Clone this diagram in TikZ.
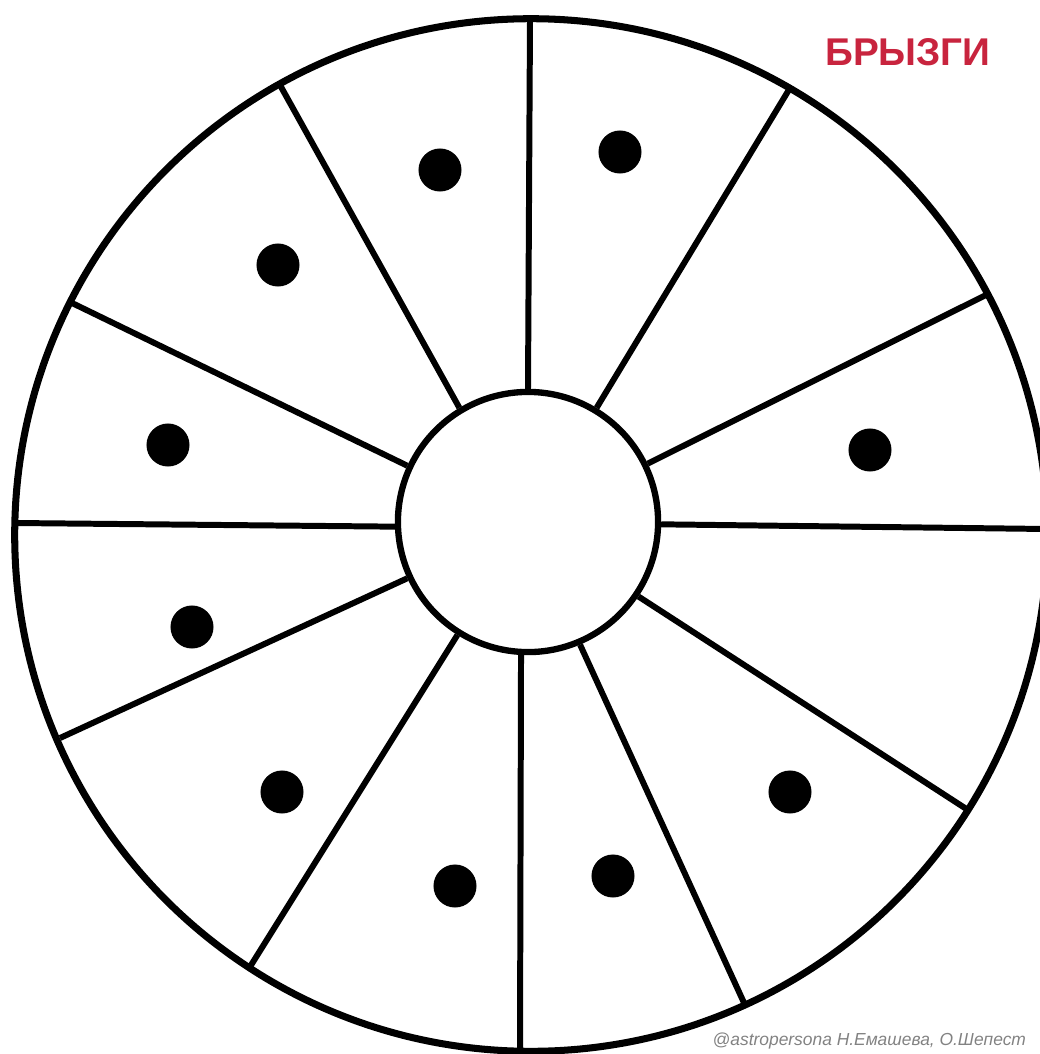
\documentclass[tikz,border=0pt]{standalone}
\usepackage{fontspec}
\setmainfont{Liberation Sans}
\definecolor{titlered}{RGB}{200,36,62}
\definecolor{markgray}{RGB}{130,130,130}
\begin{document}
\begin{tikzpicture}[x=0.01cm, y=-0.01cm,
  spoke/.style={line width=1.7pt},
  dot/.style={circle, fill=black, inner sep=0pt, minimum size=0.43cm}]

\useasboundingbox (0,0) rectangle (1040,1054);
\clip (0,0) rectangle (1040,1054);

% Wheel
\node[draw, circle, line width=2pt, minimum size=10.32cm] (rim) at (531,535) {};
\node[draw, circle, fill=white, line width=1.8pt, minimum size=2.6cm] (hub) at (528,522) {};

% Spokes (hub angle / end on the rim)
\foreach \i/\h/\x/\y in {1/90/530/20, 2/59.5/790/88, 3/26.9/990/293, 4/-1.3/1047/529,
                         5/-34.6/968/810, 6/-67.9/745/1005, 7/-93.5/520/1051,
                         8/-122.9/248/970, 9/-155/60/738, 10/-178.7/15/523,
                         11/155.1/72/303, 12/121.6/280/85} {
  \coordinate (o\i) at (\x,\y);
  \draw[spoke] (hub.\h) -- (o\i);
}

% Dots
\node[dot] (d1) at (440,170) {};
\node[dot] (d2) at (620,152) {};
\node[dot] (d3) at (278,265) {};
\node[dot] (d4) at (168,445) {};
\node[dot] (d5) at (870,450) {};
\node[dot] (d6) at (192,627) {};
\node[dot] (d7) at (282,792) {};
\node[dot] (d8) at (790,792) {};
\node[dot] (d9) at (455,886) {};
\node[dot] (d10) at (613,876) {};

% Labels
\node[text=titlered, font=\fontsize{11}{13}\selectfont\bfseries] (title) at (908,52) {БРЫЗГИ};
\node[text=markgray, anchor=base west, inner sep=0pt,
  font=\fontsize{4.95}{6}\selectfont\itshape] (mark) at (712,1045) {@astropersona Н.Емашева, О.Шепест};

\end{tikzpicture}
\end{document}
